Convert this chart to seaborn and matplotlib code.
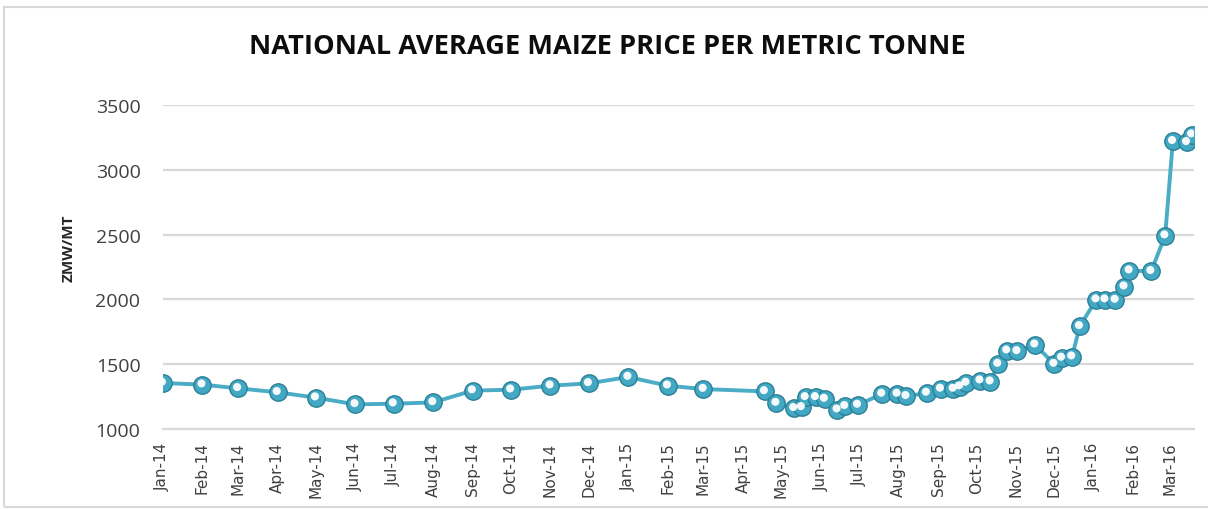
import matplotlib
matplotlib.use("Agg")
import matplotlib.pyplot as plt
import matplotlib.dates as mdates
import matplotlib.transforms as mtransforms
from matplotlib.patches import Rectangle
import numpy as np
import pandas as pd
import seaborn as sns

# ─── Data ────────────────────────────────────────────────────────────────────
DATES = [
    "2014-01-01", "2014-02-01", "2014-03-01", "2014-04-01", "2014-05-01",
    "2014-06-01", "2014-07-01", "2014-08-01", "2014-09-01", "2014-10-01",
    "2014-11-01", "2014-12-01", "2015-01-01", "2015-02-01", "2015-03-01",
    "2015-04-18", "2015-04-27", "2015-05-11", "2015-05-17", "2015-05-20",
    "2015-05-28", "2015-06-04", "2015-06-14", "2015-06-20", "2015-06-30",
    "2015-07-19", "2015-07-31", "2015-08-07", "2015-08-23", "2015-09-03",
    "2015-09-13", "2015-09-18", "2015-09-23", "2015-10-04", "2015-10-12",
    "2015-10-18", "2015-10-25", "2015-11-02", "2015-11-16", "2015-12-01",
    "2015-12-07", "2015-12-15", "2015-12-21", "2016-01-03", "2016-01-10",
    "2016-01-18", "2016-01-25", "2016-01-29", "2016-02-15", "2016-02-26",
    "2016-03-03", "2016-03-14", "2016-03-18",
]
PRICES = [
    1355, 1342, 1314, 1283, 1242,
    1190, 1195, 1205, 1296, 1303,
    1334, 1352, 1401, 1334, 1308,
    1290, 1200, 1160, 1167, 1244,
    1244, 1231, 1149, 1175, 1185,
    1270, 1270, 1252, 1278, 1309,
    1309, 1327, 1355, 1373, 1365,
    1501, 1604, 1599, 1650, 1501,
    1548, 1558, 1792, 1998, 1998,
    1995, 2098, 2222, 2217, 2492,
    3220, 3212, 3271,
]
Y_TICKS = [1000, 1500, 2000, 2500, 3000, 3500]
TITLE = "NATIONAL AVERAGE MAIZE PRICE PER METRIC TONNE"
Y_LABEL = "ZMW/MT"

df = pd.DataFrame({"date": pd.to_datetime(DATES), "price": PRICES})

# ─── Style ───────────────────────────────────────────────────────────────────
sns.set_style("white")
plt.rcParams["font.family"] = ["Open Sans", "DejaVu Sans"]

LINE_COL = "#4bacc6"
BALL_COL = "#43a8c3"
BALL_EDGE = "#2a7f96"
GRID_COL = "#d9d9d9"

fig = plt.figure(figsize=(12.08, 5.10), dpi=100)
ax = fig.add_axes([0.1347, 0.1569, 0.9884 - 0.1347, 0.7922 - 0.1569])

# outer chart border
fig.patches.append(Rectangle((0.003, 0.004), 1.2, 0.98, transform=fig.transFigure,
                             fill=False, edgecolor="#d9d9d9", lw=1.5))

sns.lineplot(data=df, x="date", y="price", ax=ax, color=LINE_COL, lw=2.8,
             marker="o", markersize=12.5, markerfacecolor=BALL_COL,
             markeredgecolor=BALL_EDGE, markeredgewidth=1.0, zorder=3)

# glossy highlight on each ball
hl = mtransforms.offset_copy(ax.transData, fig=fig, x=-0.6, y=0.9, units="points")
ax.scatter(df["date"], df["price"], s=34, color="white", edgecolor="none",
           alpha=0.95, transform=hl, zorder=4)

# ─── Axes ────────────────────────────────────────────────────────────────────
ax.set_ylim(1000, 3500)
ax.set_yticks(Y_TICKS)
ax.set_xlim(pd.Timestamp("2014-01-01"), pd.Timestamp("2016-03-19 14:00"))
ax.xaxis.set_major_locator(mdates.MonthLocator())
ax.xaxis.set_major_formatter(mdates.DateFormatter("%b-%y"))
ax.grid(axis="y", color=GRID_COL, lw=1.6)
ax.set_axisbelow(True)

for s in ("top", "right", "left"):
    ax.spines[s].set_visible(False)
ax.spines["bottom"].set_color(GRID_COL)
ax.spines["bottom"].set_linewidth(1.6)

ax.tick_params(axis="x", rotation=90, labelsize=11, colors="#404040",
               length=6, width=1.4, color=GRID_COL, pad=3, direction="out")
for lbl in ax.get_xticklabels():
    lbl.set_fontfamily("DejaVu Sans")
ax.tick_params(axis="y", labelsize=14, colors="#404040", length=0, pad=16)

ax.set_xlabel("")
ax.set_ylabel(Y_LABEL, fontsize=11, fontweight="bold")
ax.yaxis.set_label_coords(-0.084, 0.56)
fig.text(0.503, 0.907, TITLE, ha="center", va="center", fontsize=19.6,
         fontweight="bold", color="#0d0d0d")

fig.savefig("out.png", dpi=100)
plt.close(fig)
